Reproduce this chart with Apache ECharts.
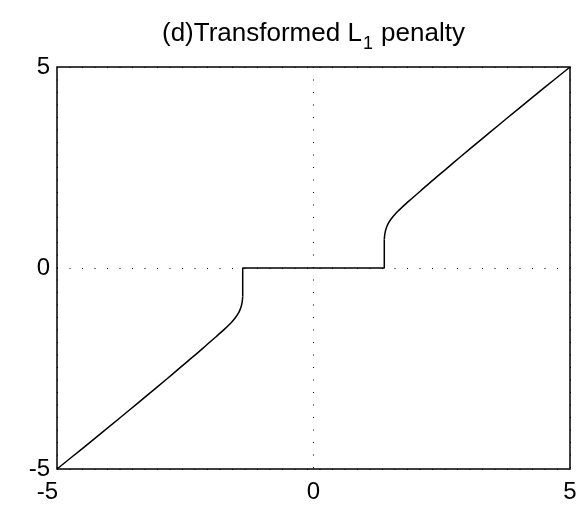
<!DOCTYPE html>
<html>
<head>
<meta charset="utf-8">
<script src="https://cdn.jsdelivr.net/npm/echarts@6/dist/echarts.min.js"></script>
<style>
  html, body { margin: 0; padding: 0; background: #fff; }
  #chart { width: 580px; height: 509px; }
</style>
</head>
<body>
<div id="chart"></div>
<script>
// Thresholding curve of the transformed L1 penalty: output vs. input
const leftX  = [-5, -4.5, -4, -3.6, -3.25, -2.86, -2.6, -2.34, -2.08, -1.9, -1.75, -1.62, -1.52, -1.45, -1.41, -1.39, -1.38];
const leftY  = [-5, -4.485, -3.965, -3.545, -3.175, -2.76, -2.48, -2.2, -1.91, -1.71, -1.54, -1.38, -1.23, -1.09, -0.96, -0.84, -0.71];
const zeroX  = [-1.38, -1.38, 1.38, 1.38];
const zeroY  = [-0.71, 0, 0, 0.71];
const rightX = [1.38, 1.39, 1.41, 1.45, 1.52, 1.62, 1.75, 1.9, 2.08, 2.34, 2.6, 2.86, 3.25, 3.6, 4, 4.5, 5];
const rightY = [0.71, 0.84, 0.96, 1.09, 1.23, 1.38, 1.54, 1.71, 1.91, 2.2, 2.48, 2.76, 3.175, 3.545, 3.965, 4.485, 5];
const xTicks = [-5, 0, 5];
const yTicks = [-5, 0, 5];

const pairs = (xs, ys) => xs.map((x, i) => [x, ys[i]]);
const font = '"Liberation Sans", Arial, Helvetica, sans-serif';

const chart = echarts.init(document.getElementById('chart'), null, { renderer: 'canvas' });

const axisCommon = (ticks) => ({
  type: 'value',
  min: ticks[0],
  max: ticks[ticks.length - 1],
  interval: ticks[1] - ticks[0],
  axisLine: { show: false },
  axisTick: { show: false },
  splitLine: {
    show: true,
    lineStyle: { color: '#000', width: 1, type: [1, 11.5] }
  }
});

const labelStyle = { color: '#000', fontFamily: font, fontSize: 24 };

const lineSeries = (data, smooth) => ({
  type: 'line',
  data: data,
  showSymbol: false,
  smooth: smooth,
  lineStyle: { color: '#000', width: 1.5 },
  z: 5
});

chart.setOption({
  animation: false,
  backgroundColor: '#fff',
  title: {
    // placed so the title sits centred over the plot area
    left: 162,
    top: 21,
    padding: 0,
    text: '{a|(d)Transformed L}{s|1}{a| penalty}',
    textStyle: {
      fontWeight: 'normal',
      rich: {
        a: { fontFamily: font, fontSize: 26, fontWeight: 'normal', lineHeight: 30, color: '#000', verticalAlign: 'top' },
        s: { fontFamily: font, fontSize: 18, fontWeight: 'normal', lineHeight: 20, color: '#000', verticalAlign: 'top', padding: [14, 1, 0, 1] }
      }
    }
  },
  grid: {
    left: 57, right: 10, top: 67, bottom: 40,
    show: true,
    borderColor: '#000',
    borderWidth: 1.5,
    containLabel: false
  },
  xAxis: Object.assign(axisCommon(xTicks), {
    axisLabel: Object.assign({}, labelStyle, {
      margin: 11,
      // the leftmost label sits a little left of its tick
      formatter: (v) => (v === xTicks[0] ? '{l|' + v + '}' : String(v)),
      rich: { l: Object.assign({}, labelStyle, { padding: [0, 19, 0, 0] }) }
    })
  }),
  yAxis: Object.assign(axisCommon(yTicks), {
    axisLabel: Object.assign({}, labelStyle, { margin: 7 })
  }),
  series: [
    lineSeries(pairs(leftX, leftY), 0.3),
    lineSeries(pairs(zeroX, zeroY), false),
    lineSeries(pairs(rightX, rightY), 0.3)
  ]
});
</script>
</body>
</html>
